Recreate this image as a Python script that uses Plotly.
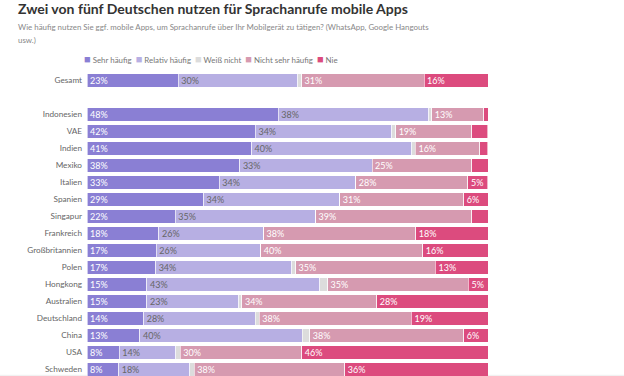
import plotly.graph_objects as go

# ---------------- data ----------------
categories = ["Gesamt", "", "Indonesien", "VAE", "Indien", "Mexiko", "Italien", "Spanien",
              "Singapur", "Frankreich", "Großbritannien", "Polen", "Hongkong", "Australien",
              "Deutschland", "China", "USA", "Schweden"]

series_names = ["Sehr häufig", "Relativ häufig", "Weiß nicht", "Nicht sehr häufig", "Nie"]

sehr_haeufig = [22.75, None, 47.7, 42.0, 41.03, 38.13, 32.97, 29.08, 22.0, 17.94, 17.27,
                17.12, 14.95, 14.95, 14.13, 13.21, 8.05, 7.9]
relativ_haeufig = [29.75, None, 37.55, 34.05, 39.95, 32.97, 34.06, 33.97, 34.99, 26.09, 26.09,
                   33.89, 43.11, 22.85, 27.81, 40.44, 14.13, 17.77]
weiss_nicht = [1.0, None, 0.75, 0.92, 0.92, 0.0, 0.0, 0.0, 0.0, 0.0, 0.0,
               1.0, 1.92, 0.83, 1.0, 1.92, 1.07, 1.07]
nicht_sehr_haeufig = [30.55, None, 12.96, 18.94, 16.1, 24.84, 27.98, 30.9, 38.95, 37.95, 40.37,
                      34.89, 35.14, 33.64, 37.98, 38.37, 30.33, 37.55]
nie = [15.95, None, 1.04, 4.06, 1.99, 4.06, 4.98, 6.06, 4.06, 18.02, 16.27,
       13.1, 4.88, 27.73, 19.09, 6.06, 46.42, 35.71]

series_values = [sehr_haeufig, relativ_haeufig, weiss_nicht, nicht_sehr_haeufig, nie]

title_text = "Zwei von fünf Deutschen nutzen für Sprachanrufe mobile Apps"
subtitle_line1 = ("Wie häufig nutzen Sie ggf. mobile Apps, um Sprachanrufe über Ihr Mobilgerät zu tätigen? "
                  "(WhatsApp, Google Hangouts")
subtitle_line2 = "usw.)"

# ---------------- style ----------------
colors = ["#8a7fd4", "#b7afe3", "#dcdcdc", "#d69ab0", "#dc4b7e"]
text_colors = ["#ffffff", "#666666", "#666666", "#ffffff", "#ffffff"]
FONT = "Lato"

W, H = 624, 376
ML, MR, MT, MB = 87, 136, 72, 0
PW, PH = W - ML - MR, H - MT - MB


def px_x(p):
    return (p - ML) / PW


def px_y(p):
    return (H - MB - p) / PH


positions = list(range(len(categories)))

fig = go.Figure()
for name, vals, col, tcol in zip(series_names, series_values, colors, text_colors):
    texts = [(f"{round(v)}%" if (v is not None and v >= 4.5) else "") for v in vals]
    fig.add_trace(go.Bar(
        name=name, orientation="h", y=positions, x=vals,
        marker=dict(color=col, line=dict(color="#ffffff", width=0.6)),
        text=texts, textposition="inside", insidetextanchor="start",
        textfont=dict(family=FONT, size=9, color=tcol),
        constraintext="none", showlegend=False, hoverinfo="x+name",
    ))

legend_html = "\u00a0\u00a0".join(
    f"<span style='color:{c};font-size:11px'>■</span>\u00a0{n}" for n, c in zip(series_names, colors)
)

fig.update_layout(
    width=W, height=H, autosize=False,
    margin=dict(l=ML, r=MR, t=MT, b=MB, pad=0),
    paper_bgcolor="white", plot_bgcolor="white",
    barmode="stack", bargap=0.2,
    font=dict(family=FONT, color="#666666"),
    xaxis=dict(range=[0, 100], visible=False, fixedrange=True),
    yaxis=dict(range=[17.38, -0.5], tickmode="array", tickvals=positions, ticktext=categories,
               showgrid=False, zeroline=False, showline=False, ticks="",
               tickfont=dict(family=FONT, size=8.2, color="#666666"),
               ticklabelstandoff=4, fixedrange=True),
    annotations=[
        dict(text=f"<b>{title_text}</b>", xref="paper", yref="paper", x=px_x(16), y=px_y(8),
             xanchor="left", yanchor="middle", showarrow=False,
             font=dict(family=FONT, size=14, color="#333333")),
        dict(text=subtitle_line1, xref="paper", yref="paper", x=px_x(16), y=px_y(27),
             xanchor="left", yanchor="middle", showarrow=False, align="left",
             font=dict(family=FONT, size=7.9, color="#888888")),
        dict(text=subtitle_line2, xref="paper", yref="paper", x=px_x(16), y=px_y(39.5),
             xanchor="left", yanchor="middle", showarrow=False, align="left",
             font=dict(family=FONT, size=7.9, color="#888888")),
        dict(text=legend_html, xref="paper", yref="paper", x=px_x(210.5), y=px_y(59),
             xanchor="center", yanchor="middle", showarrow=False,
             font=dict(family=FONT, size=7.9, color="#777777")),
    ],
    shapes=[dict(type="line", xref="paper", yref="paper", x0=px_x(0), x1=px_x(W),
                 y0=px_y(375.3), y1=px_y(375.3), line=dict(color="#eeeeee", width=1), layer="below")],
)

fig.write_html("out.html", config={"displayModeBar": False},
               post_script="document.body.style.margin='0px';")
